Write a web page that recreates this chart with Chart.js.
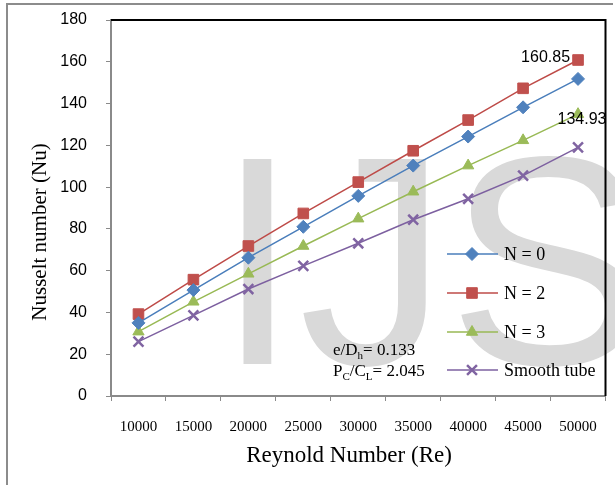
<!DOCTYPE html>
<html>
<head>
<meta charset="utf-8">
<script src="https://cdn.jsdelivr.net/npm/chart.js@4.4.0/dist/chart.umd.min.js"></script>
<style>
    html, body { margin: 0; padding: 0; background: #fff; }
    #caixa { position: relative; width: 615px; height: 485px; }
</style>
</head>
<body>
<div id="caixa"><canvas id="grafico" width="615" height="485"></canvas></div>
<script>
// Dados (Nu x Re)
const reynolds = ["10000", "15000", "20000", "25000", "30000", "35000", "40000", "45000", "50000"];
const nuN0 = [35, 50.7, 66.2, 81, 95.8, 110.3, 124.2, 138.2, 151.8];
const nuN2 = [39.2, 55.7, 71.8, 87.4, 102.4, 117.4, 132.1, 147.3, 160.85];
const nuN3 = [30.8, 45.1, 58.5, 71.8, 84.9, 97.8, 110.3, 122.4, 134.93];
const nuLiso = [26, 38.6, 51.2, 62.3, 73.1, 84.4, 94.4, 105.5, 119];
const nomesSeries = ["N = 0", "N = 2", "N = 3", "Smooth tube"];
const rotulosValor = ["160.85", "134.93"];

const serif = "'Liberation Serif', 'Times New Roman', serif";
const sans = "'Liberation Sans', Arial, sans-serif";

// Plugin para marca d'água, moldura, legenda e textos
const extras = {
    id: "extras",
    beforeDraw(chart) {
        const ctx = chart.ctx;
        ctx.save();
        // borda externa cinza
        ctx.strokeStyle = "#8c8c8c";
        ctx.lineWidth = 2;
        ctx.beginPath();
        ctx.moveTo(7, 485);
        ctx.lineTo(7, 4);
        ctx.lineTo(613, 4);
        ctx.stroke();
        // marca d'água
        ctx.fillStyle = "#d9d9d9";
        ctx.font = "298px " + sans;
        ctx.textBaseline = "alphabetic";
        ctx.fillText("IJS", 216, 364);
        ctx.restore();
    },
    beforeDatasetsDraw(chart) {
        const ctx = chart.ctx;
        const a = chart.chartArea;
        ctx.save();
        ctx.strokeStyle = "#000";
        ctx.lineWidth = 2;
        ctx.beginPath();
        ctx.moveTo(a.left, a.top);
        ctx.lineTo(a.right, a.top);
        ctx.lineTo(a.right, a.bottom);
        ctx.stroke();
        ctx.restore();
    },
    afterDraw(chart) {
        const ctx = chart.ctx;
        const xs = chart.scales.x;
        const ys = chart.scales.y;
        ctx.save();

        // títulos dos eixos
        ctx.fillStyle = "#000";
        ctx.textAlign = "center";
        ctx.textBaseline = "middle";
        ctx.font = "23px " + serif;
        ctx.fillText("Reynold Number (Re)", 349, 456);
        ctx.save();
        ctx.translate(40, 232);
        ctx.rotate(-Math.PI / 2);
        ctx.font = "21px " + serif;
        ctx.fillText("Nusselt number (Nu)", 0, 0);
        ctx.restore();

        // legenda
        const yLeg = [254, 293, 332, 370];
        ctx.textAlign = "left";
        ctx.font = "18px " + serif;
        chart.data.datasets.forEach((ds, i) => {
            const y = yLeg[i];
            ctx.strokeStyle = ds.borderColor;
            ctx.lineWidth = 1.5;
            ctx.beginPath();
            ctx.moveTo(447, y);
            ctx.lineTo(498, y);
            ctx.stroke();
            ctx.fillStyle = ds.pointBackgroundColor;
            ctx.strokeStyle = ds.pointBorderColor;
            ctx.lineWidth = ds.pointBorderWidth;
            Chart.helpers.drawPoint(ctx, {
                pointStyle: ds.pointStyle,
                radius: ds.pointRadius,
                rotation: 0,
                borderWidth: ds.pointBorderWidth
            }, 472, y);
            ctx.fillStyle = "#000";
            ctx.fillText(ds.label, 504, y + 1);
        });

        // valores finais
        ctx.font = "16px " + sans;
        ctx.textBaseline = "alphabetic";
        const ult = reynolds.length - 1;
        const xUlt = xs.getPixelForValue(ult);
        ctx.textAlign = "right";
        ctx.fillText(rotulosValor[0], xUlt - 8, ys.getPixelForValue(nuN2[ult]) + 2);
        ctx.textAlign = "center";
        ctx.fillText(rotulosValor[1], xUlt + 4, ys.getPixelForValue(nuN3[ult]) + 10);

        // parâmetros geométricos
        ctx.textAlign = "left";
        let x = 333;
        const partes1 = [["e/D", 0], ["h", 1], ["= 0.133", 0]];
        const partes2 = [["P", 0], ["C", 1], ["/C", 0], ["L", 1], ["= 2.045", 0]];
        [[partes1, 355], [partes2, 376]].forEach(([partes, base]) => {
            x = 333;
            partes.forEach(([txt, sub]) => {
                ctx.font = (sub ? "11px " : "17px ") + serif;
                ctx.fillText(txt, x, base + (sub ? 4 : 0));
                x += ctx.measureText(txt).width;
            });
        });

        ctx.restore();
    }
};

const ctx = document.getElementById("grafico").getContext("2d");

const grafico = new Chart(ctx, {
    type: "line",
    data: {
        labels: reynolds,
        datasets: [
            {
                label: nomesSeries[0],
                data: nuN0,
                borderColor: "#4a7ebb",
                borderWidth: 1.5,
                pointStyle: "rectRot",
                pointRadius: 6.5,
                pointBackgroundColor: "#4f81bd",
                pointBorderColor: "#4f81bd",
                pointBorderWidth: 1
            },
            {
                label: nomesSeries[1],
                data: nuN2,
                borderColor: "#be4b48",
                borderWidth: 1.5,
                pointStyle: "rect",
                pointRadius: 7.5,
                pointBackgroundColor: "#c0504d",
                pointBorderColor: "#c0504d",
                pointBorderWidth: 1
            },
            {
                label: nomesSeries[2],
                data: nuN3,
                borderColor: "#98b954",
                borderWidth: 1.5,
                pointStyle: "triangle",
                pointRadius: 6.5,
                pointBackgroundColor: "#9bbb59",
                pointBorderColor: "#9bbb59",
                pointBorderWidth: 1
            },
            {
                label: nomesSeries[3],
                data: nuLiso,
                borderColor: "#7d60a0",
                borderWidth: 1.5,
                pointStyle: "crossRot",
                pointRadius: 7,
                pointBackgroundColor: "#8064a2",
                pointBorderColor: "#8064a2",
                pointBorderWidth: 2.5
            }
        ]
    },
    options: {
        responsive: false,
        animation: false,
        layout: {
            padding: { left: 0, right: 8, top: 20, bottom: 0 }
        },
        plugins: {
            legend: { display: false },
            tooltip: { enabled: false }
        },
        scales: {
            x: {
                offset: true,
                grid: {
                    offset: true,
                    drawOnChartArea: false,
                    tickLength: 5,
                    color: "#8a8a8a"
                },
                border: { color: "#8a8a8a", width: 2 },
                ticks: {
                    color: "#000",
                    font: { family: serif, size: 15 },
                    padding: 17,
                    maxRotation: 0
                },
                afterFit(escala) { escala.height = 89; }
            },
            y: {
                min: 0,
                max: 180,
                grid: {
                    drawOnChartArea: false,
                    tickLength: 5,
                    color: "#8a8a8a"
                },
                border: { color: "#8a8a8a", width: 2 },
                ticks: {
                    stepSize: 20,
                    color: "#000",
                    font: { family: sans, size: 16 },
                    padding: 19
                },
                afterFit(escala) {
                    escala.width = 111;
                    escala.paddingTop = 8; // sem o padding extra dos rótulos no topo
                }
            }
        }
    },
    plugins: [extras]
});
</script>
</body>
</html>
